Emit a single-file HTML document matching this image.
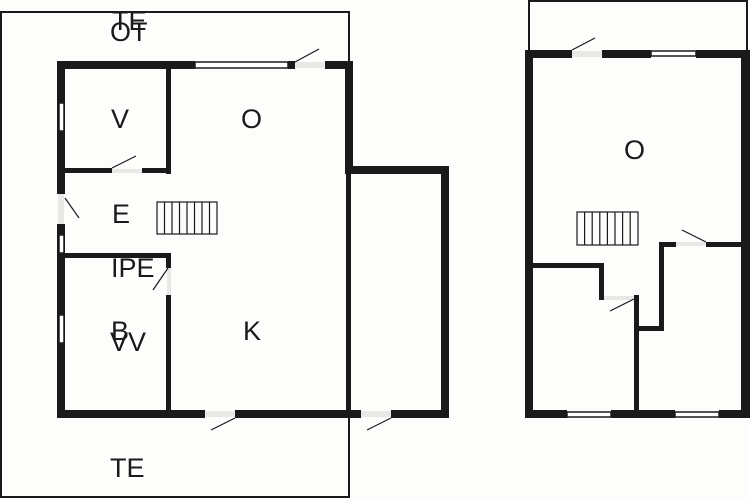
<!DOCTYPE html>
<html><head><meta charset="utf-8"><style>
html,body{margin:0;padding:0;background:#fdfdfb;}
svg{display:block}
text{font-family:"Liberation Sans",sans-serif;font-size:27px;fill:#1a1a1a;}
</style></head><body>
<svg width="750" height="500" viewBox="0 0 750 500" xmlns="http://www.w3.org/2000/svg">
<rect width="750" height="500" fill="#fdfdfb"/>
<g fill="none" stroke="#1a1a1a" stroke-width="2">
<polyline points="349,61 349,12 1,12 1,497 349,497 349,418"/>
<rect x="529" y="1" width="218" height="51"/>
</g>
<g fill="#e8e8e6">
<rect x="295" y="62" width="30" height="6"/>
<rect x="112" y="169" width="30" height="4"/>
<rect x="58" y="194" width="6" height="30"/>
<rect x="167" y="268" width="4" height="27"/>
<rect x="205" y="411" width="30" height="6"/>
<rect x="361" y="411" width="30" height="6"/>
<rect x="572" y="51" width="30" height="6"/>
<rect x="604" y="296" width="30" height="4"/>
<rect x="676" y="242" width="30" height="4"/>
</g>
<g fill="#1a1a1a">
<rect x="57" y="61" width="138" height="8"/>
<rect x="288" y="61" width="7" height="8"/>
<rect x="325" y="61" width="28" height="8"/>
<rect x="345" y="61" width="8" height="113"/>
<rect x="345" y="166" width="104" height="8"/>
<rect x="441" y="166" width="8" height="252"/>
<rect x="346" y="174" width="5" height="244"/>
<rect x="57" y="61" width="8" height="133"/>
<rect x="57" y="224" width="8" height="194"/>
<rect x="57" y="410" width="148" height="8"/>
<rect x="235" y="410" width="126" height="8"/>
<rect x="391" y="410" width="58" height="8"/>
<rect x="166" y="65" width="5" height="109"/>
<rect x="65" y="168" width="47" height="5"/>
<rect x="142" y="168" width="29" height="5"/>
<rect x="65" y="253" width="106" height="5"/>
<rect x="166" y="253" width="5" height="15"/>
<rect x="166" y="295" width="5" height="118"/>
<rect x="525" y="50" width="47" height="8"/>
<rect x="602" y="50" width="49" height="8"/>
<rect x="696" y="50" width="54" height="8"/>
<rect x="525" y="50" width="8" height="368"/>
<rect x="741" y="50" width="9" height="368"/>
<rect x="525" y="410" width="42" height="8"/>
<rect x="611" y="410" width="64" height="8"/>
<rect x="719" y="410" width="31" height="8"/>
<rect x="533" y="263" width="71" height="5"/>
<rect x="599" y="263" width="5" height="37"/>
<rect x="634" y="295" width="5" height="118"/>
<rect x="639" y="326" width="25" height="5"/>
<rect x="659" y="242" width="5" height="89"/>
<rect x="659" y="242" width="17" height="5"/>
<rect x="706" y="242" width="35" height="5"/>
</g>
<g fill="#fff" stroke="#1a1a1a" stroke-width="1.5">
<rect x="195" y="62" width="93" height="6"/>
<rect x="59" y="103" width="5" height="28"/>
<rect x="59" y="235" width="5" height="18"/>
<rect x="59" y="315" width="5" height="28"/>
<rect x="651" y="51" width="45" height="5"/>
<rect x="567" y="412" width="44" height="5"/>
<rect x="675" y="412" width="44" height="5"/>
</g>
<g stroke="#1a1a1a" stroke-width="1.2" fill="none">
<line x1="295" y1="62" x2="319" y2="49"/>
<line x1="112" y1="168" x2="136" y2="156"/>
<line x1="65" y1="198" x2="79" y2="218"/>
<line x1="168" y1="268" x2="153" y2="290"/>
<line x1="235" y1="418" x2="211" y2="430"/>
<line x1="391" y1="418" x2="367" y2="430"/>
<line x1="572" y1="50" x2="595" y2="38"/>
<line x1="682" y1="230" x2="706" y2="242"/>
<line x1="634" y1="299" x2="610" y2="311"/>
<rect x="157" y="202" width="60" height="32"/>
<path d="M164.5 202v32M172 202v32M179.5 202v32M187 202v32M194.5 202v32M202 202v32M209.5 202v32"/>
<rect x="577" y="212" width="61" height="33"/>
<path d="M584.6 212v33M592.2 212v33M599.8 212v33M607.4 212v33M615 212v33M622.6 212v33M630.2 212v33"/>
</g>
<text x="111" y="128">V</text>
<text x="241" y="128">O</text>
<text x="112" y="223">E</text>
<text x="111" y="277">IPE</text>
<text x="111" y="340">B</text>
<text x="110" y="351">VV</text>
<text x="243" y="340">K</text>
<text x="110" y="477">TE</text>
<text x="110" y="41">OT</text>
<text x="112" y="30">TE</text>
<text x="624" y="159">O</text>
</svg>
</body></html>
